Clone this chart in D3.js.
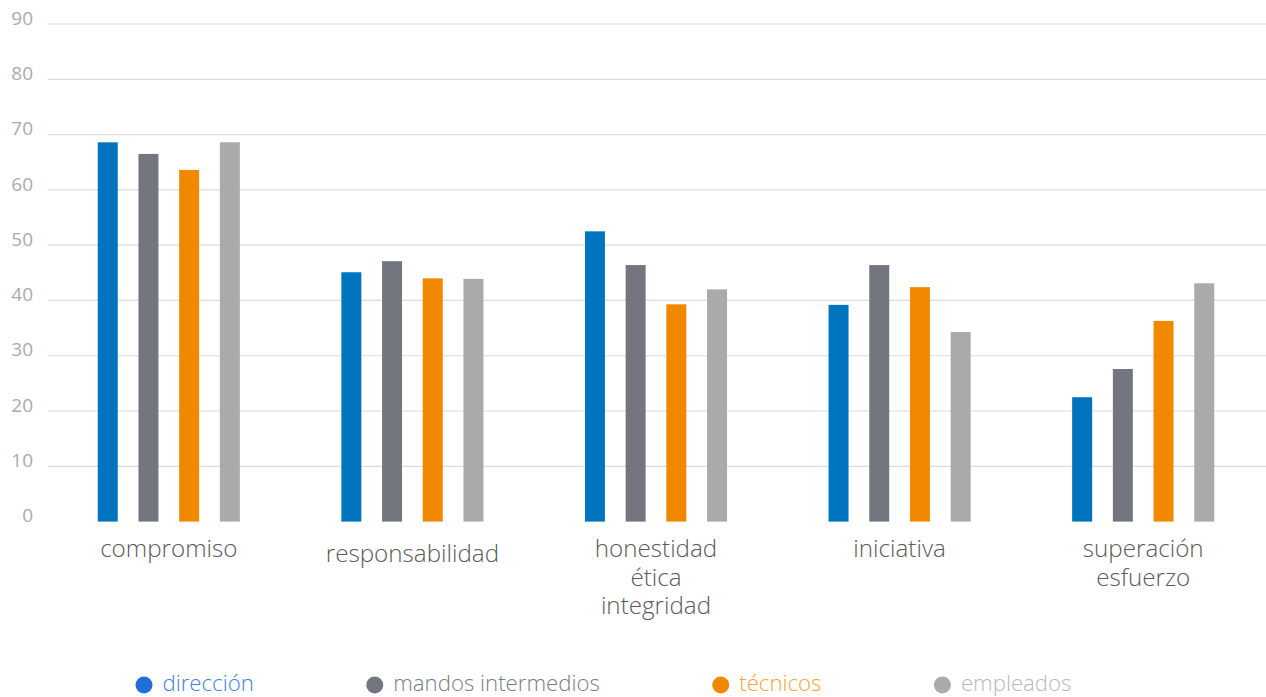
<!DOCTYPE html>
<html>
<head>
<meta charset="utf-8">
<script src="https://cdn.jsdelivr.net/npm/d3@7/dist/d3.min.js"></script>
<style>
  html, body { margin: 0; padding: 0; background: #fff; }
  svg { display: block; font-family: "Open Sans", sans-serif; }
</style>
</head>
<body>
<svg id="chart" width="1266" height="697"></svg>
<script>
// Competencias valoradas por colectivo
const categories = ["compromiso", "responsabilidad", "honestidad\nética\nintegridad", "iniciativa", "superación\nesfuerzo"];
const seriesNames = ["dirección", "mandos intermedios", "técnicos", "empleados"];
const direccion = [68.6, 45.1, 52.5, 39.2, 22.5];
const mandos    = [66.5, 47.1, 46.4, 46.4, 27.6];
const tecnicos  = [63.6, 44.0, 39.3, 42.4, 36.3];
const empleados = [68.6, 43.9, 42.0, 34.3, 43.1];
const yTicks = [0, 10, 20, 30, 40, 50, 60, 70, 80, 90];

const seriesValues = [direccion, mandos, tecnicos, empleados];
const barColors = ["#0074bf", "#73767e", "#f08800", "#aaaaaa"];
const dotColors = ["#1e6fd9", "#73767e", "#f08800", "#aaaaaa"];
const textColors = ["#3c82dc", "#7a7d84", "#f5a33a", "#b9b9b9"];

const svg = d3.select("#chart");

const x0 = d3.scaleBand().domain(categories).range([47, 1265]).padding(0);
const innerStep = 40.7, pIn = 0.509;
const pOut = (x0.bandwidth() / innerStep - 4 + pIn) / 2;
const x1 = d3.scaleBand().domain(seriesNames).range([0, x0.bandwidth()])
  .paddingInner(pIn).paddingOuter(pOut);
const y = d3.scaleLinear().domain([0, 90]).range([521.6, 24]);

// gridlines (no line at zero)
svg.append("g").selectAll("line")
  .data(yTicks.filter(d => d > 0))
  .join("line")
  .attr("x1", 48).attr("x2", 1266)
  .attr("y1", d => y(d)).attr("y2", d => y(d))
  .attr("stroke", "#dcdcdc").attr("stroke-width", 1.2);

// y tick labels
svg.append("g").selectAll("text")
  .data(yTicks)
  .join("text")
  .attr("x", 33).attr("y", d => y(d) - 6)
  .attr("dy", "0.35em")
  .attr("text-anchor", "end")
  .attr("fill", "#ababab")
  .attr("font-size", 19)
  .text(d => d);

// bars
const groups = svg.append("g").selectAll("g")
  .data(categories)
  .join("g")
  .attr("transform", d => `translate(${x0(d)},0)`);

groups.selectAll("rect")
  .data((c, ci) => seriesNames.map((s, si) => ({ s, si, v: seriesValues[si][ci] })))
  .join("rect")
  .attr("x", d => x1(d.s))
  .attr("width", x1.bandwidth())
  .attr("y", d => y(d.v))
  .attr("height", d => y(0) - y(d.v))
  .attr("fill", d => barColors[d.si]);

// category labels, one text element per line
const labelNudge = { "responsabilidad": 5 };
const catLines = categories.flatMap(c =>
  c.split("\n").map((line, i) => ({ c, line, i })));
svg.append("g").selectAll("text")
  .data(catLines)
  .join("text")
  .attr("x", d => x0(d.c) + x0.bandwidth() / 2)
  .attr("y", d => 557 + (labelNudge[d.c] || 0) + d.i * 28.5)
  .attr("text-anchor", "middle")
  .attr("fill", "#5a5a5a")
  .attr("font-size", 24.2)
  .attr("font-weight", 300)
  .text(d => d.line);

// legend
const legend = svg.append("g");
let cx = 144;
seriesNames.forEach((name, i) => {
  legend.append("circle")
    .attr("cx", cx).attr("cy", 685).attr("r", 8.5)
    .attr("fill", dotColors[i]);
  const txt = legend.append("text")
    .attr("x", cx + 18.5).attr("y", 683)
    .attr("dy", "0.35em")
    .attr("fill", textColors[i])
    .attr("font-size", 22.2)
    .attr("font-weight", 300)
    .text(name);
  const w = txt.node().getComputedTextLength();
  cx = cx + 18.5 + w + 121;
});
</script>
</body>
</html>
